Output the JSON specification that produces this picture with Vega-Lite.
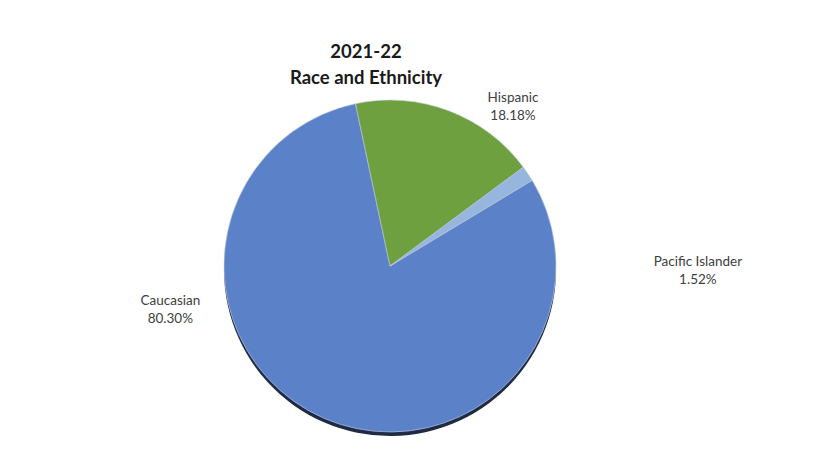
{
  "$schema": "https://vega.github.io/schema/vega-lite/v6.json",
  "autosize": "none",
  "padding": {"left": 0, "top": 0, "right": 0, "bottom": 0},
  "width": 780,
  "height": 532,
  "background": "white",
  "config": {"view": {"stroke": null}},
  "title": {
    "text": ["2021-22", "Race and Ethnicity"],
    "font": "Lato",
    "fontSize": 18.5,
    "fontWeight": "bold",
    "color": "#1a1a1a",
    "lineHeight": 26,
    "baseline": "top",
    "offset": -42,
    "dy": 45,
    "dx": -24
  },
  "data": {
    "values": [
      {"group": "Caucasian", "pct": 80.30, "label": "Caucasian\n80.30%"},
      {"group": "Hispanic", "pct": 18.18, "label": "Hispanic\n18.18%"},
      {"group": "Pacific Islander", "pct": 1.52, "label": "Pacific Islander\n1.52%"}
    ]
  },
  "encoding": {
    "theta": {"field": "pct", "type": "quantitative", "stack": true, "scale": {"range": [1.0284, 7.3116]}}
  },
  "layer": [
    {
      "mark": {"type": "arc", "outerRadius": 166, "yOffset": 4, "color": "#1f2a44"},
      "encoding": {}
    },
    {
      "mark": {"type": "arc", "outerRadius": 166, "stroke": "#c8d3e6", "strokeWidth": 0.6},
      "encoding": {
        "color": {
          "field": "group", "type": "nominal", "legend": null,
          "scale": {"domain": ["Caucasian", "Hispanic", "Pacific Islander"], "range": ["#5b82c8", "#6fa03f", "#97b6de"]}
        }
      }
    },
    {
      "transform": [{"filter": "datum.group === 'Hispanic'"}],
      "mark": {"type": "text", "radius": 202, "thetaOffset": -0.945, "dy": -8, "lineBreak": "\n", "font": "Lato", "fontSize": 13.5, "color": "#404040", "lineHeight": 18, "align": "center", "baseline": "middle"},
      "encoding": {"text": {"field": "label"}}
    },
    {
      "transform": [{"filter": "datum.group === 'Pacific Islander'"}],
      "mark": {"type": "text", "radius": 308, "thetaOffset": 0.524, "dy": -13, "lineBreak": "\n", "font": "Lato", "fontSize": 13.5, "color": "#404040", "lineHeight": 18, "align": "center", "baseline": "middle"},
      "encoding": {"text": {"field": "label"}}
    },
    {
      "transform": [{"filter": "datum.group === 'Caucasian'"}],
      "mark": {"type": "text", "radius": 224, "thetaOffset": 0.964, "dy": -9, "lineBreak": "\n", "font": "Lato", "fontSize": 13.5, "color": "#404040", "lineHeight": 18, "align": "center", "baseline": "middle"},
      "encoding": {"text": {"field": "label"}}
    }
  ]
}
